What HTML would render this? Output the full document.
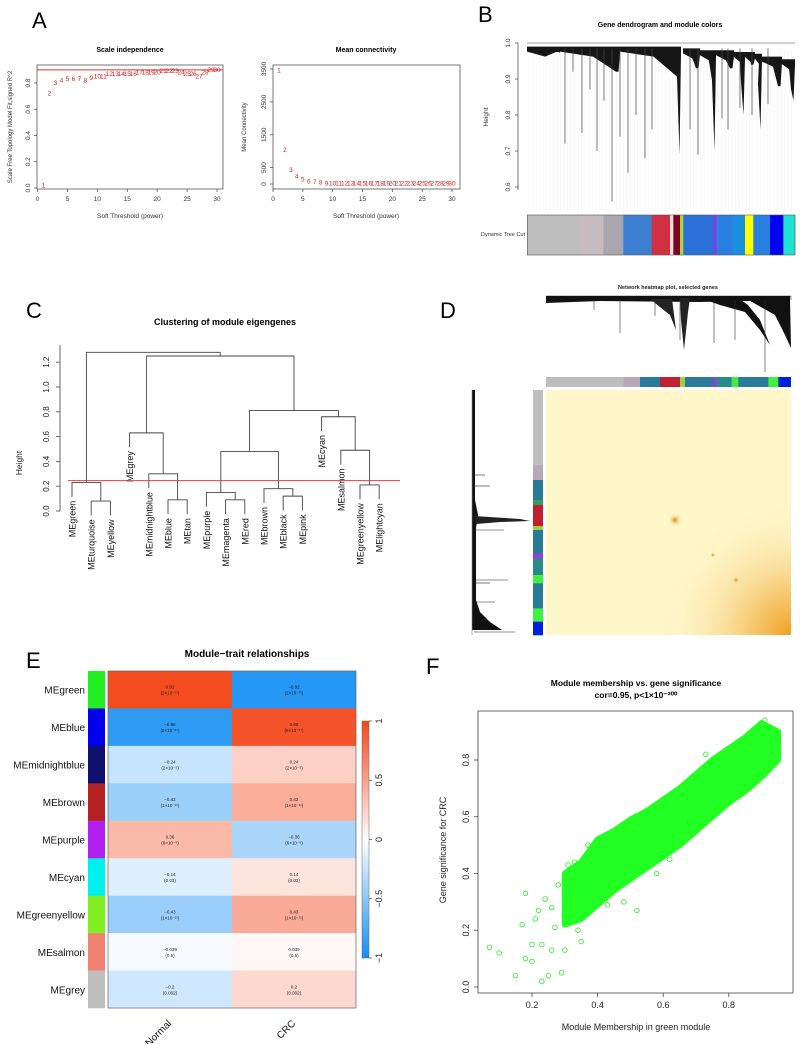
<!DOCTYPE html>
<html><head><meta charset="utf-8"><style>
html,body{margin:0;padding:0;background:#fff;}
svg{display:block;font-family:"Liberation Sans",Arial,sans-serif;}
</style></head><body>
<svg id="fig" width="800" height="1044" viewBox="0 0 800 1044" xmlns="http://www.w3.org/2000/svg">
<defs>
<linearGradient id="cbar" x1="0" y1="0" x2="0" y2="1">
<stop offset="0" stop-color="#f4451a"/><stop offset="0.5" stop-color="#ffffff"/><stop offset="1" stop-color="#148ef2"/>
</linearGradient>
<radialGradient id="hot" cx="1" cy="1" r="1">
<stop offset="0" stop-color="#f0a020"/><stop offset="0.5" stop-color="#f8d890" stop-opacity="0.8"/><stop offset="1" stop-color="#fff6c9" stop-opacity="0"/>
</radialGradient>
<radialGradient id="spot" cx="0.5" cy="0.5" r="0.5">
<stop offset="0" stop-color="#d88a10"/><stop offset="1" stop-color="#fff6c9" stop-opacity="0"/>
</radialGradient>
</defs>
</svg>
<script>
// ---------- Panel A data ----------
const powers=[1,2,3,4,5,6,7,8,9,10,11,12,13,14,15,16,17,18,19,20,21,22,23,24,25,26,27,28,29,30];
const r2Values=[0.02,0.72,0.80,0.82,0.83,0.83,0.83,0.82,0.84,0.85,0.85,0.87,0.87,0.87,0.87,0.87,0.88,0.88,0.88,0.88,0.89,0.89,0.89,0.88,0.87,0.87,0.85,0.88,0.90,0.90];
const meanConn=[3450,1030,420,230,130,80,60,40,20,12,10,10,10,10,10,10,10,10,10,10,10,10,10,10,10,10,10,10,10,10];
const aXTicks=[0,5,10,15,20,25,30];
const aLeftYTicks=[0,0.2,0.4,0.6,0.8];
const aRightYTicks=[0,500,1500,2500,3500];
// ---------- Panel C data ----------
const cLeaves=["MEgreen","MEturquoise","MEyellow","MEgrey","MEmidnightblue","MEblue","MEtan","MEpurple","MEmagenta","MEred","MEbrown","MEblack","MEpink","MEcyan","MEsalmon","MEgreenyellow","MElightcyan"];
const cMergeA=[-2,-1,-6,-5,-4,-9,-8,-12,-11,7,-16,-15,-14,10,5,2];
const cMergeB=[-3,1,-7,3,4,-10,6,-13,8,9,-17,11,12,13,14,15];
const cHeights=[0.08,0.23,0.09,0.30,0.63,0.09,0.15,0.12,0.18,0.48,0.21,0.49,0.76,0.81,1.25,1.28];
const cYTicks=[0,0.2,0.4,0.6,0.8,1.0,1.2];
const cCut=0.245;
// ---------- Panel E data ----------
const eModules=["MEgreen","MEblue","MEmidnightblue","MEbrown","MEpurple","MEcyan","MEgreenyellow","MEsalmon","MEgrey"];
const eModuleColors=["#22ee22","#0000ee","#101070","#b22222","#b020f0","#00f0f0","#80ee20","#f08070","#bebebe"];
const eTraits=["Normal","CRC"];
const eNormal=[0.92,-0.88,-0.24,-0.42,0.36,-0.14,-0.43,-0.039,-0.2];
const eCRC=[-0.92,0.88,0.24,0.42,-0.36,0.14,0.43,0.039,0.2];
const ePNormal=["(2×10⁻⁷¹)","(6×10⁻⁶⁷)","(2×10⁻⁵)","(1×10⁻¹¹)","(6×10⁻⁹)","(0.03)","(1×10⁻¹¹)","(0.5)","(0.002)"];
const ePCRC=["(2×10⁻⁷¹)","(6×10⁻⁶⁷)","(2×10⁻⁵)","(1×10⁻¹¹)","(6×10⁻⁹)","(0.03)","(1×10⁻¹¹)","(0.5)","(0.002)"];
const eBarTicks=[1,0.5,0,-0.5,-1];
// ---------- Panel F data ----------
const fBandX=[0.30,0.35,0.40,0.45,0.50,0.55,0.60,0.65,0.70,0.75,0.80,0.85,0.90,0.95];
const fBandLow=[0.22,0.24,0.29,0.34,0.38,0.42,0.46,0.50,0.55,0.60,0.65,0.69,0.74,0.80];
const fBandHigh=[0.40,0.44,0.52,0.55,0.59,0.62,0.66,0.70,0.75,0.80,0.84,0.88,0.93,0.90];
const fOutX=[0.07,0.10,0.15,0.17,0.18,0.18,0.20,0.20,0.23,0.23,0.25,0.26,0.29,0.30,0.26,0.22,0.37,0.52,0.73,0.95,0.21,0.27,0.24,0.31,0.33,0.28,0.35,0.48,0.60,0.68,0.34,0.43,0.58,0.88,0.91,0.62];
const fOutY=[0.14,0.12,0.04,0.22,0.33,0.10,0.09,0.15,0.02,0.15,0.04,0.13,0.05,0.13,0.28,0.27,0.50,0.27,0.82,0.88,0.24,0.21,0.31,0.43,0.44,0.36,0.16,0.30,0.47,0.58,0.20,0.29,0.40,0.74,0.94,0.45];
const fXTicks=[0.2,0.4,0.6,0.8];
const fYTicks=[0,0.2,0.4,0.6,0.8];
// ---------- Panel B data ----------
const bTicks=[0.6,0.7,0.8,0.9,1.0];
const bSegStart=[172,325,400,460,545,600,610,630,640,730,740,790,825,850,900,940];
const bSegColor=["#bebebe","#c6bcc0","#a9a6ae","#3d7fd0","#d03040","#e6e0e0","#800020","#b0d040","#2a70d8","#8040e0","#2a80e0","#1a8fe0","#ffff00","#2a80e0","#0000f0","#20e0d0"];
const bClusterX0=[527,560,620,683,700,716,734,745,755,762,782];
const bClusterX1=[560,620,681,700,716,734,745,755,762,782,795];
const bClusterTop=[0.99,0.99,0.99,0.985,0.98,0.98,0.975,0.975,0.97,0.962,0.955];
const bClusterBot=[0.975,0.92,0.69,0.93,0.70,0.93,0.80,0.94,0.76,0.88,0.84];
const bDropX=[565,573,582,590,597,604,612,620,628,636,645,652,690,698,722,728,740,752,768];
const bDropBot=[0.72,0.92,0.75,0.87,0.70,0.84,0.56,0.74,0.64,0.80,0.68,0.76,0.76,0.69,0.79,0.76,0.82,0.80,0.83];
// ---------- Panel D data ----------
const dSegStart=[378,610,660,720,780,795,880,890,935,955,1045,1075];
const dSegColor=["#bebebe","#b8a8b8","#2a7a9a","#c02030","#a0d040","#2a7a9a","#9040e0","#2a8a8a","#40f040","#2a7a9a","#40f040","#0020e0"];
const dLeftStart=[330,555,600,660,675,738,750,820,835,885,910,985,1025];
const dLeftColor=["#bebebe","#b8a8b8","#2a7a9a","#30a060","#c02030","#a0d040","#2a7a9a","#9040e0","#2a8a8a","#40f040","#2a7a9a","#40f040","#0020e0"];

const NS="http://www.w3.org/2000/svg";
const svg=document.getElementById('fig');
function mk(tag,attrs,parent){const e=document.createElementNS(NS,tag);for(const k in attrs)e.setAttribute(k,attrs[k]);(parent||svg).appendChild(e);return e;}
function txt(s,x,y,size,opts,parent){opts=opts||{};const t=mk('text',{x:x,y:y,'font-size':size,'text-anchor':opts.anchor||'middle',fill:opts.fill||'#000','font-weight':opts.bold?'bold':'normal'},parent);if(opts.rot!==undefined)t.setAttribute('transform','rotate('+opts.rot+' '+x+' '+y+')');t.textContent=s;return t;}
function line(x1,y1,x2,y2,st,w,parent){return mk('line',{x1:x1,y1:y1,x2:x2,y2:y2,stroke:st||'#000','stroke-width':w||0.8},parent);}

// Panel labels
[["A",32,28],["B",478,22],["C",26,318],["D",440,318],["E",26,668],["F",426,674]].forEach(p=>{
 const t=txt(p[0],p[1],p[2],22,{anchor:'start'});
 
 
});

// ================= Panel A =================
(function(){
 const gL=mk('g',{});
 
 
 const xs=v=>37.5+v*(179.5/30), ys=v=>188-v*131.25;
 txt("Scale independence",130,52,7,{bold:true},gL);
 mk('rect',{x:37,y:65,width:186,height:124,fill:'none',stroke:'#555','stroke-width':0.8},gL);
 aXTicks.forEach(t=>{line(xs(t),189,xs(t),192,'#555',0.8,gL);txt(String(t),xs(t),201,6.5,{fill:'#333'},gL);});
 aLeftYTicks.forEach(t=>{line(34,ys(t),37,ys(t),'#555',0.8,gL);txt(t.toFixed(1),30,ys(t),6.5,{fill:'#333',rot:-90},gL);});
 txt("Soft Threshold (power)",130,218,6.5,{fill:'#333'},gL);
 txt("Scale Free Topology Model Fit,signed R^2",12,127,6,{fill:'#333',rot:-90},gL);
 const cut=line(37,ys(0.9),223,ys(0.9),'#e03030',0.9,gL);
 
 
 powers.forEach((p,i)=>{const t=txt(String(p),xs(p),ys(r2Values[i])+2,6.5,{fill:'#d02020'},gL);
  
  });
 const gR=mk('g',{});
 
 
 const xr=v=>273+v*(179/30), yr=v=>184-v*(115/3500);
 txt("Mean connectivity",366,52,7,{bold:true},gR);
 mk('rect',{x:273,y:65,width:187,height:124,fill:'none',stroke:'#555','stroke-width':0.8},gR);
 aXTicks.forEach(t=>{line(xr(t),189,xr(t),192,'#555',0.8,gR);txt(String(t),xr(t),201,6.5,{fill:'#333'},gR);});
 aRightYTicks.forEach(t=>{line(270,yr(t),273,yr(t),'#555',0.8,gR);txt(String(t),266,yr(t),6.5,{fill:'#333',rot:-90},gR);});
 txt("Soft Threshold (power)",366,218,6.5,{fill:'#333'},gR);
 txt("Mean Connectivity",246,127,6,{fill:'#333',rot:-90},gR);
 powers.forEach((p,i)=>{const t=txt(String(p),xr(p),yr(meanConn[i])+2,6.5,{fill:'#d02020'},gR);
  
  });
})();

// ================= Panel B =================
(function(){
 const g=mk('g',{});
 
 
 const yB=h=>43+(1-h)*360;
 txt("Gene dendrogram and module colors",660,27,7,{bold:true},g);
 line(518,43,518,190,'#555',0.8,g);
 bTicks.forEach(t=>{line(515,yB(t),518,yB(t),'#555',0.8,g);txt(t.toFixed(1),510,yB(t),6.5,{fill:'#333',rot:-90},g);});
 txt("Height",488,117,6.5,{fill:'#333',rot:-90},g);
 for(let x=529;x<795;x+=3.5){line(x,50,x,212,'#ececec',0.4,g);}
 line(527,yB(1.0),795,yB(1.0),'#444',0.6,g);
 bClusterX0.forEach((x0,i)=>{const x1=bClusterX1[i];const t=yB(bClusterTop[i]),b=yB(bClusterBot[i]);
  const p=mk('polygon',{points:`${x0},${t} ${x1},${t} ${x1},${t+6} ${x1-1.5},${b} ${x1-4},${Math.min(b,t+30)} ${x1-(x1-x0)*0.45},${t+10} ${x0},${t+5}`,fill:'#161616'},g);
  
  });
 bDropX.forEach((x,i)=>{line(x,yB(0.985),x,yB(bDropBot[i]),'#444',0.7,g);});
 txt("Dynamic Tree Cut",503,236,5.5,{fill:'#333'},g);
 bSegStart.forEach((s,i)=>{const e=i+1<bSegStart.length?bSegStart[i+1]:975;
  const r=mk('rect',{x:470+s/3,y:215,width:(e-s)/3+0.3,height:40,fill:bSegColor[i]},g);
  
  });
 mk('rect',{x:527.3,y:215,width:267.7,height:40,fill:'none',stroke:'#555','stroke-width':0.6},g);
})();

// ================= Panel C =================
(function(){
 const g=mk('g',{});
 
 
 const yC=h=>511-h*124, xL=i=>72+i*19.2;
 txt("Clustering of module eigengenes",225,325,9,{bold:true},g);
 line(60,511,60,345,'#444',0.8,g);
 cYTicks.forEach(t=>{line(56,yC(t),60,yC(t),'#444',0.8,g);txt(t.toFixed(1),49,yC(t),8,{fill:'#222',rot:-90},g);});
 txt("Height",22,463,8.5,{fill:'#222',rot:-90},g);
 const nx=[];
 function pos(id){return id<0?{x:xL(-id-1),leaf:-id-1}:{x:nx[id-1],leaf:-1};}
 cHeights.forEach((h,i)=>{
  const a=pos(cMergeA[i]),b=pos(cMergeB[i]);
  const y=yC(h);
  const ya=a.leaf>=0?yC(h-0.115):yC(cHeights[cMergeA[i]-1]);
  const yb=b.leaf>=0?yC(h-0.115):yC(cHeights[cMergeB[i]-1]);
  const p=mk('path',{d:`M${a.x},${ya}V${y}H${b.x}V${yb}`,fill:'none',stroke:'#444','stroke-width':0.9},g);
  
  
  [a,b].forEach(n=>{if(n.leaf>=0){const ly=yC(h-0.115)+4;
    const t=txt(cLeaves[n.leaf],n.x+3.5,ly,9,{anchor:'end',fill:'#111',rot:-90},g);
    
    }});
  nx.push((a.x+b.x)/2);
 });
 const cl=line(68,yC(cCut),400,yC(cCut),'#e04040',0.9,g);
 
 
})();

// ================= Panel D =================
(function(){
 const g=mk('g',{});
 
 
 txt("Network heatmap plot, selected genes",668,289,5.5,{bold:true,fill:'#222'},g);
 line(546,296,791,296,'#333',0.6,g);line(791,296,791,300,'#333',0.6,g);
 mk('polygon',{points:'546,296 790,296 790,300 700,302 600,301 546,303',fill:'#111'},g);
 mk('polygon',{points:'650,299 672,299 676,330 670,315',fill:'#222'},g);
 mk('polygon',{points:'680,298 690,298 688,312 684,350 681,320',fill:'#222'},g);
 mk('polygon',{points:'700,298 738,298 748,305 760,320 770,345 760,330 745,312 720,305',fill:'#111'},g);
 mk('polygon',{points:'745,298 790,299 791,348 785,335 775,315',fill:'#111'},g);
 [[594,310],[620,333],[655,316],[714,343],[735,340],[765,372],[680,340]].forEach(d=>line(d[0],300,d[0],d[1],'#333',0.6,g));
 dSegStart.forEach((s,i)=>{const e=i+1<dSegStart.length?dSegStart[i+1]:1112;
  const r=mk('rect',{x:420+s/3,y:377,width:(e-s)/3+0.3,height:10,fill:dSegColor[i]},g);
  
  });
 dLeftStart.forEach((s,i)=>{const e=i+1<dLeftStart.length?dLeftStart[i+1]:1065;
  const r=mk('rect',{x:533,y:280+s/3,width:10,height:(e-s)/3+0.3,fill:dLeftColor[i]},g);
  
  });
 mk('polygon',{points:'472,390 475,390 475,500 478,515 476,528 472,528',fill:'#111'},g);
 mk('polygon',{points:'474,516 520,519 530,521 500,522 476,524',fill:'#222'},g);
 mk('polygon',{points:'472,528 476,526 476,600 480,612 490,622 502,630 472,630',fill:'#111'},g);
 [[504,530],[490,583],[508,580],[495,602],[515,632],[490,486],[485,475]].forEach(d=>line(474,d[1],d[0],d[1],'#222',0.6,g));
 line(472,390,472,635,'#888',0.6,g);
 const hm=mk('rect',{x:546,y:390,width:245,height:245,fill:'#fff6c9'},g);
 
 
 mk('rect',{x:660,y:500,width:131,height:135,fill:'url(#hot)'},g);
 mk('circle',{cx:675,cy:520,r:7,fill:'url(#spot)'},g);
 mk('circle',{cx:736,cy:580,r:4,fill:'url(#spot)'},g);
 mk('circle',{cx:713,cy:555,r:3,fill:'url(#spot)'},g);
})();

// ================= Panel E =================
(function(){
 const g=mk('g',{});
 
 
 function col(v){let c=v>=0?[244,60,12]:[18,142,244];const a=Math.min(1,Math.abs(v));
  return `rgb(${Math.round(255+(c[0]-255)*a)},${Math.round(255+(c[1]-255)*a)},${Math.round(255+(c[2]-255)*a)})`;}
 txt("Module\u2212trait relationships",247,657,10,{bold:true},g);
 const x0=108,xm=232,x1=356,y0=671,rh=(1008-671)/eModules.length;
 eModules.forEach((m,i)=>{const y=y0+i*rh;
  const sw=mk('rect',{x:88,y:y,width:17,height:rh+0.3,fill:eModuleColors[i]},g);
  
  
  const t=txt(m,85,y+rh/2+4,10,{anchor:'end',fill:'#111'},g);
  
  
  [[eNormal,ePNormal,x0,xm],[eCRC,ePCRC,xm,x1]].forEach(c=>{
   const r=mk('rect',{x:c[2],y:y,width:c[3]-c[2],height:rh+0.3,fill:col(c[0][i])},g);
   
   
   const cx=(c[2]+c[3])/2;
   txt((c[0][i]<0?'\u2212':'')+String(Math.abs(c[0][i])),cx,y+rh/2-1,4.5,{fill:'#222'},g);
   txt(c[1][i],cx,y+rh/2+5,4.5,{fill:'#222'},g);
  });
 });
 mk('rect',{x:x0,y:y0,width:x1-x0,height:1008-y0,fill:'none',stroke:'#666','stroke-width':0.7},g);
 const cb=mk('rect',{x:362,y:721,width:7,height:237,fill:'url(#cbar)',stroke:'#666','stroke-width':0.5},g);
 
 
 eBarTicks.forEach(t=>{const y=721+(1-t)/2*237;line(369,y,372,y,'#444',0.7,g);
  txt((t<0?'\u2212':'')+String(Math.abs(t)),382,y,9,{fill:'#222',rot:-90},g);});
 txt(eTraits[0],172,1024,10,{anchor:'end',fill:'#111',rot:-45},g);
 txt(eTraits[1],296,1024,10,{anchor:'end',fill:'#111',rot:-45},g);
})();

// ================= Panel F =================
(function(){
 const g=mk('g',{});
 
 
 const xF=v=>532+(v-0.2)*328, yF=v=>987-v*283.75;
 txt("Module membership vs. gene significance",636,686,8.5,{bold:true},g);
 txt("cor=0.95, p<1×10\u207B\u00B2\u2070\u2070",636,698,8.5,{bold:true},g);
 mk('rect',{x:478,y:711,width:315,height:282,fill:'none',stroke:'#444','stroke-width':0.8},g);
 fXTicks.forEach(t=>{line(xF(t),993,xF(t),997,'#444',0.8,g);txt(t.toFixed(1),xF(t),1008,9,{fill:'#222'},g);});
 fYTicks.forEach(t=>{line(474,yF(t),478,yF(t),'#444',0.8,g);txt(t.toFixed(1),469,yF(t),9,{fill:'#222',rot:-90},g);});
 txt("Module Membership in green module",636,1030,9,{fill:'#222'},g);
 txt("Gene significance for  CRC",446,850,9,{fill:'#222',rot:-90},g);
 let pts=fBandX.map((x,i)=>xF(x)+','+yF(fBandHigh[i])).join(' ')+' '+fBandX.slice().reverse().map((x,i)=>xF(x)+','+yF(fBandLow[fBandLow.length-1-i])).join(' ');
 const band=mk('polygon',{points:pts,fill:'#22ff22',stroke:'#22ff22','stroke-width':6,'stroke-linejoin':'round'},g);
 
 
 fOutX.forEach((x,i)=>{const c=mk('circle',{cx:xF(x),cy:yF(fOutY[i]),r:2.3,fill:'none',stroke:'#22ee22','stroke-width':0.8},g);
  
  });
})();
</script>
</body></html>
